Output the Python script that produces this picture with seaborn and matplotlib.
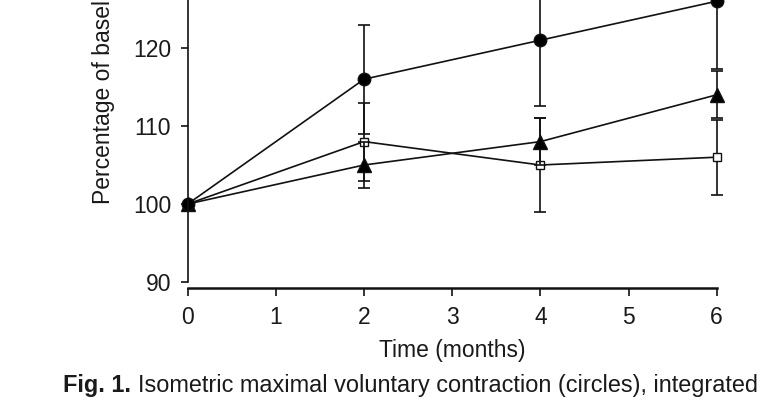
import matplotlib
matplotlib.use("Agg")
import matplotlib.pyplot as plt
import seaborn as sns
import numpy as np

months = [0, 2, 4, 6]

## circles, triangles, squares (percentage of baseline) and their error bars
circles = [100, 116, 121, 126]
circles_err = [0, 7, 8.4, 8.7]
triangles = [100, 105, 108, 114]
triangles_err = [0, 3, 3, 3]
squares = [100, 108, 105, 106]
squares_err = [0, 5, 6, 4.8]

x_ticks = [0, 1, 2, 3, 4, 5, 6]
y_ticks = [90, 100, 110, 120]

caption_bold = "Fig. 1."
caption_rest = "Isometric maximal voluntary contraction (circles), integrated"

sns.set_theme(style="ticks")
plt.rcParams["font.family"] = ["Liberation Sans", "DejaVu Sans"]

fig = plt.figure(figsize=(7.65, 4.0), dpi=100)
ax = fig.add_axes([0.2454, 0.295, 0.6915, 0.78])

series = [
    (squares, squares_err, dict(marker="s", markersize=6, markerfacecolor="white")),
    (triangles, triangles_err, dict(marker="^", markersize=9.5, markerfacecolor="black")),
    (circles, circles_err, dict(marker="o", markersize=9, markerfacecolor="black")),
]

for vals, err, style in series:
    ax.errorbar(months, vals, yerr=err, fmt="none", ecolor="#111111",
                elinewidth=1.2, capsize=4.5, capthick=1.2, clip_on=False)
    sns.lineplot(x=months, y=vals, ax=ax, color="#111111", linewidth=1.2,
                 markeredgecolor="#111111", markeredgewidth=1.0,
                 clip_on=False, **style)

ax.set_xlim(0, 6)
ax.set_ylim(90, 130)
ax.set_xticks(x_ticks)
ax.set_yticks(y_ticks)

sns.despine(ax=ax)
ax.spines["bottom"].set_position(("outward", 4.3))
ax.spines["bottom"].set_linewidth(1.8)
ax.spines["left"].set_linewidth(1.2)
ax.spines["bottom"].set_color("#111111")
ax.spines["left"].set_color("#111111")

ax.tick_params(axis="both", direction="out", length=5.4, width=1.2,
               colors="#111111", labelsize=16.5, labelcolor="#1a1a1a")
ax.tick_params(axis="x", pad=7.5)
ax.tick_params(axis="y", pad=6.5)

ax.set_xlabel("Time (months)", fontsize=16.5, color="#1a1a1a", labelpad=7)
ax.set_ylabel("Percentage of baseline", fontsize=16.5, color="#1a1a1a", loc="bottom")
ax.yaxis.set_label_coords(-0.137, 0.25)

## caption: bold figure number then plain text, sized to the reference width
cap_x0, cap_x1 = 62.7 / 765, 759 / 765
cap_y = 0.02
size = 17
t1 = fig.text(cap_x0, cap_y, caption_bold, fontsize=size, fontweight="bold",
              color="#1a1a1a", ha="left", va="baseline")
t2 = fig.text(cap_x0, cap_y, caption_rest, fontsize=size,
              color="#1a1a1a", ha="left", va="baseline")
r = fig.canvas.get_renderer()
w1 = t1.get_window_extent(r).width
w2 = t2.get_window_extent(r).width
gap = 0.3 * size * 100 / 72
scale = (cap_x1 - cap_x0) * 765 / (w1 + gap + w2)
size = size * scale
t1.set_fontsize(size)
t2.set_fontsize(size)
w1 = t1.get_window_extent(r).width
t2.set_x(cap_x0 + (w1 + 0.3 * size * 100 / 72) / 765)

fig.savefig("out.png", dpi=100, facecolor="white")
